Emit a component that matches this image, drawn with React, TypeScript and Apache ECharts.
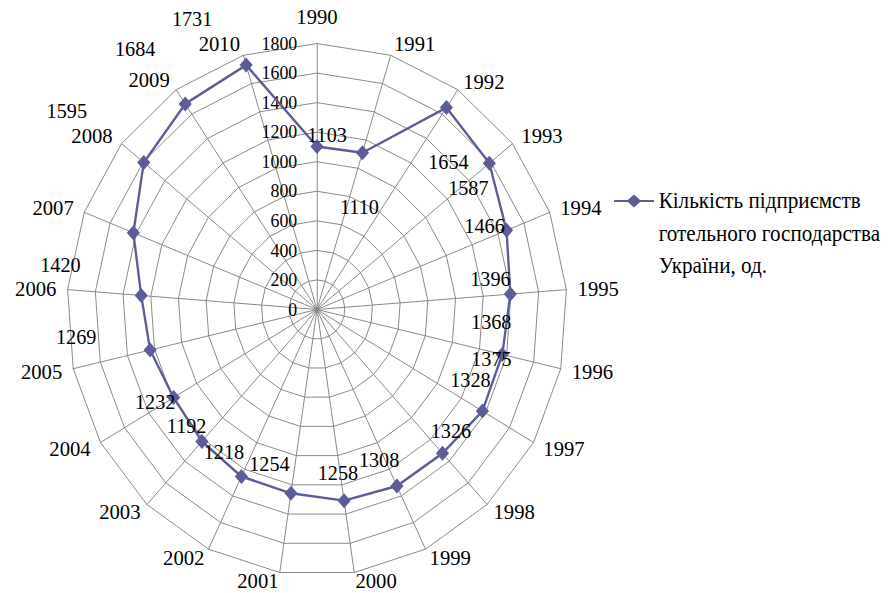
import React, { useEffect, useRef } from "react";
import * as echarts from "echarts";

// ---- data ----
const years: string[] = [
  "1990", "1991", "1992", "1993", "1994", "1995", "1996", "1997", "1998", "1999", "2000",
  "2001", "2002", "2003", "2004", "2005", "2006", "2007", "2008", "2009", "2010",
];
const hotelCount: number[] = [
  1103, 1110, 1654, 1587, 1466, 1396, 1368, 1375, 1328, 1326, 1308,
  1258, 1254, 1218, 1192, 1232, 1269, 1420, 1595, 1684, 1731,
];
const axisMax = 1800;
const axisStep = 200;
const seriesName = "Кількість підприємств\nготельного господарства\nУкраїни, од.";

// ---- style / layout (screen offsets of value labels, px; gaps of year names) ----
const labelOffsets: number[][] = [
  [10, -12], [-3, 54], [2, 54], [-21, 25], [-22, -5], [-20, -15], [-11, -33],
  [9, -52], [28, -74], [54, -55], [35, -41], [47, -21], [28, -13], [22, 10],
  [13, 28], [5, 52], [-65, 41], [-73, 32], [-77, -52], [-50, -55], [-54, -46],
];
const nameGaps: number[] = [
  16, 12, 10, 12, 12, 12, 12, 12, 10, 10, 8,
  8, 10, 10, 12, 12, 12, 12, 12, 12, 12,
];

const SCALE = 0.94; // reference is horizontally compressed
const W = Math.round(894 / SCALE);
const H = 593;
const CX = 317 / SCALE;
const CY = 309.5;
const R = 266;
const COLOR = "#5c5c96";
const GRID = "#868686";
const FONT = "Liberation Serif";

export default function App() {
  const ref = useRef<HTMLDivElement>(null);
  useEffect(() => {
    if (!ref.current) return;
    const chart = echarts.init(ref.current, undefined, { renderer: "svg" });
    const n = years.length;
    // radar indicators run counter-clockwise; reorder so that years run clockwise
    const order = [0, ...Array.from({ length: n - 1 }, (_, k) => n - 1 - k)];
    const indicators = order.map((i) => {
      const ind: any = { name: years[i], max: axisMax, min: 0, nameGap: nameGaps[i] };
      if (i === 0) {
        ind.axisLabel = {
          show: true,
          color: "#000",
          fontSize: 19,
          fontFamily: FONT,
          margin: 21,
          formatter: (v: number) => String(v),
        };
      }
      return ind;
    });
    const radarValues = order.map((i) => hotelCount[i]);

    const lineH = 32.5;
    const itemH = lineH * 3;
    const itemW = 42.5;
    const ly = lineH / 2;
    const iconPath =
      `path://M0,${ly - 1} L14.75,${ly - 1} L21.25,${ly - 6.5} L27.75,${ly - 1} L${itemW},${ly - 1} ` +
      `L${itemW},${ly + 1} L27.75,${ly + 1} L21.25,${ly + 6.5} L14.75,${ly + 1} L0,${ly + 1} Z ` +
      `M0,0 L0.01,0 L0,0.01 Z M${itemW},${itemH} L${itemW - 0.01},${itemH} L${itemW},${itemH - 0.01} Z`;

    chart.setOption({
      animation: false,
      backgroundColor: "#fff",
      textStyle: { fontFamily: FONT },
      legend: {
        data: [{ name: seriesName, icon: iconPath }],
        left: 614 / SCALE,
        top: 201 - ly,
        padding: 0,
        itemWidth: itemW,
        itemHeight: itemH,
        itemGap: 0,
        textStyle: { fontSize: 22.5, fontFamily: FONT, color: "#000", lineHeight: lineH },
        selectedMode: false,
      },
      radar: {
        center: [CX, CY],
        radius: R,
        shape: "polygon",
        splitNumber: axisMax / axisStep,
        startAngle: 90,
        axisNameGap: 12,
        axisName: { color: "#000", fontSize: 22, fontFamily: FONT },
        axisLine: { lineStyle: { color: GRID, width: 1 } },
        splitLine: { lineStyle: { color: GRID, width: 1 } },
        splitArea: { show: false },
        axisTick: { show: false },
        axisLabel: { show: false },
        indicator: indicators,
      },
      polar: { center: [CX, CY], radius: R },
      angleAxis: { type: "value", min: 0, max: n, startAngle: 90, clockwise: true, show: false },
      radiusAxis: { type: "value", min: 0, max: axisMax, show: false },
      series: [
        {
          name: seriesName,
          type: "radar",
          symbol: "diamond",
          symbolSize: [14, 15],
          itemStyle: { color: COLOR },
          lineStyle: { color: COLOR, width: 2.5 },
          data: [{ value: radarValues, name: seriesName }],
          z: 3,
        },
        {
          type: "scatter",
          coordinateSystem: "polar",
          symbolSize: 1,
          itemStyle: { color: "rgba(255,255,255,0)", opacity: 1 },
          silent: true,
          z: 4,
          data: hotelCount.map((v, i) => ({
            value: [v, i],
            label: {
              show: true,
              position: "inside",
              offset: [labelOffsets[i][0] / SCALE, labelOffsets[i][1]],
              formatter: String(v),
              color: "#000",
              opacity: 1,
              textBorderWidth: 0,
              fontSize: 21.5,
              fontFamily: FONT,
            },
          })),
        },
      ],
    });
    return () => chart.dispose();
  }, []);

  return (
    <div style={{ position: "absolute", left: 0, top: 0, width: 894, height: H, overflow: "hidden", background: "#fff" }}>
      <div
        ref={ref}
        style={{ width: W, height: H, transform: `scaleX(${SCALE})`, transformOrigin: "0 0" }}
      />
    </div>
  );
}
